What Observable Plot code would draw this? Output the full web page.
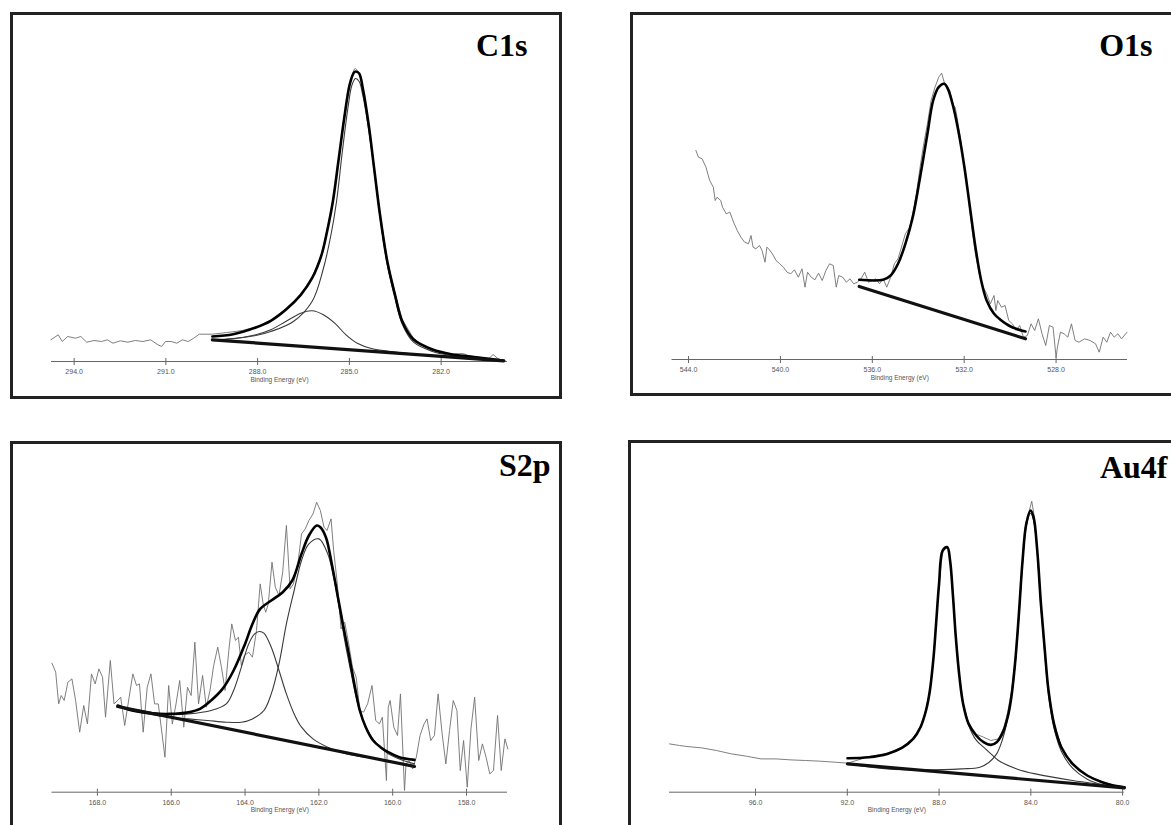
<!DOCTYPE html>
<html><head><meta charset="utf-8">
<script src="https://cdn.jsdelivr.net/npm/d3@7"></script>
<script src="https://cdn.jsdelivr.net/npm/@observablehq/plot@0.6"></script>
<style>
html,body{margin:0;padding:0;background:#fff;}
#page{position:relative;width:1171px;height:825px;overflow:hidden;background:#fff;}
.panel{position:absolute;}
.panel svg{position:absolute;left:0;top:0;}
.frame{position:absolute;left:0;top:0;right:0;bottom:0;border:3px solid #222;box-sizing:border-box;pointer-events:none;}
</style></head><body><div id="page"></div>
<script>
// ---------- C1s ----------
const c1sTicks = [294, 291, 288, 285, 282];
const c1sRaw = [[294.76,21.7],[294.52,26.7],[294.39,20],[294.21,25],[293.96,23.3],[293.78,25],[293.59,19.3],[293.35,21],[293.10,20],[292.92,21.7],[292.73,18.3],[292.49,20.7],[292.24,19.3],[292.00,21],[291.75,20],[291.50,21.7],[291.26,16.7],[291.14,15],[291.01,20],[290.83,20],[290.64,18.3],[290.46,21.7],[290.27,20],[290.09,23.3],[289.91,27.3],[289.48,27.3],[289.0,29],[288.5,31],[288.06,34.5],[287.57,41.5],[287.08,52.5],[286.59,67],[286.22,84],[285.91,107],[285.73,131],[285.54,161],[285.36,201],[285.17,245],[284.99,278],[284.85,292],[284.80,293],[284.68,289],[284.56,274],[284.37,237],[284.19,194],[284.00,148],[283.76,101],[283.51,68],[283.27,42],[282.90,23],[282.6,16],[282.28,12.5],[282.0,9],[281.67,7.5],[281.3,8],[281.05,5.5],[280.7,4],[280.44,3],[280.3,7],[280.15,3],[279.95,1]];
const c1sEnvelope = [[289.48,25],[288.80,27.3],[288.06,34],[287.57,40.7],[287.08,51.7],[286.59,66.7],[286.22,83.3],[285.91,106.7],[285.73,130],[285.54,160],[285.36,200],[285.17,243],[284.99,277],[284.85,289],[284.80,290],[284.68,288],[284.56,273],[284.37,237],[284.19,193],[284.00,147],[283.76,100],[283.51,67],[283.27,40],[282.90,22],[282.28,12],[281.67,7.3],[281.05,5],[280.44,2.7],[279.95,0.7]];
const c1sMain = [[289.48,21.7],[288.80,23],[288.06,26],[287.57,30],[286.83,40],[286.22,60],[285.85,93],[285.60,127],[285.42,160],[285.23,210],[285.05,253],[284.92,276],[284.80,283],[284.68,280],[284.56,266],[284.37,232],[284.19,191.7],[284.00,145],[283.76,96.7],[283.51,63.3],[283.27,37.3],[282.90,19.3],[282.28,10],[281.67,6],[281.05,4],[280.44,2.3],[279.95,0.7]];
const c1sMinor = [[289.48,21.7],[288.80,22.7],[288.06,26.7],[287.57,31.7],[287.08,40],[286.59,48.3],[286.22,50.7],[285.85,46.7],[285.48,38.3],[285.11,26.7],[284.74,18.3],[284.25,12.7],[283.63,10],[282.90,7.3]];
const c1sBackground = [[289.48,21.7],[279.95,0.7]];

// ---------- O1s ----------
const o1sTicks = [544, 540, 536, 532, 528];
const o1sRaw = [[543.68,209],[543.57,202.3],[543.41,200.7],[543.24,192.3],[543.08,179],[542.92,172.3],[542.84,159],[542.76,162.3],[542.60,159],[542.52,152.3],[542.36,145.7],[542.20,147.3],[542.04,137.3],[541.88,129],[541.72,122.3],[541.56,117.3],[541.39,115.7],[541.28,124],[541.19,112.3],[541.07,110.7],[540.91,114],[540.80,109],[540.67,97.3],[540.59,112.3],[540.51,110.7],[540.35,105.7],[540.19,99],[540.03,95.7],[539.87,92.3],[539.71,87.3],[539.55,85.7],[539.39,89.7],[539.22,82.3],[539.06,90.7],[538.93,72.3],[538.82,87.3],[538.66,82.3],[538.50,79.7],[538.34,86.3],[538.18,79],[538.02,89],[537.86,95.7],[537.70,94],[537.57,72.3],[537.46,84],[537.29,82.3],[537.13,77.3],[536.97,80.7],[536.81,75.7],[536.65,77.3],[536.49,80.7],[536.33,87.3],[536.17,77.3],[536.01,79],[535.85,80.7],[535.69,75.7],[535.53,80.7],[535.37,72.3],[535.20,82.3],[535.04,95.7],[534.88,100.7],[534.56,125.7],[534.37,132.3],[534.24,145.7],[534.08,165.7],[533.92,192.3],[533.76,215.7],[533.60,235.7],[533.44,259],[533.27,272.3],[533.11,282.3],[532.98,286.3],[532.87,277.3],[532.76,274],[532.63,269],[532.47,254],[532.39,252.3],[532.31,242.3],[532.15,219],[531.99,192.3],[531.83,165.7],[531.67,132.3],[531.51,105.7],[531.34,85.7],[531.18,72.3],[531.02,65.7],[530.86,55.7],[530.70,64],[530.62,49],[530.54,59],[530.38,52.3],[530.22,54],[530.06,39],[529.90,35.7],[529.74,29],[529.58,34],[529.42,22.3],[529.25,24],[529.09,35.7],[528.93,29],[528.77,40.7],[528.61,25.7],[528.45,14],[528.29,34],[528.13,32.3],[528.00,2.3],[527.94,12.3],[527.81,27.3],[527.65,25.7],[527.49,22.3],[527.33,35.7],[527.17,19],[527.00,17.3],[526.76,20.7],[526.52,19],[526.28,15.7],[526.12,7.3],[525.95,22.3],[525.79,17.3],[525.63,27.3],[525.47,22.3],[525.31,25.7],[525.15,20.7],[524.91,27.3]];
const o1sEnvelope = [[536.57,79.7],[535.53,79.7],[535.20,84],[534.88,95.7],[534.56,115.7],[534.24,142.3],[533.92,182.3],[533.60,225.7],[533.35,259],[533.11,272.3],[532.87,275.7],[532.71,270.7],[532.47,252.3],[532.23,225.7],[531.99,192.3],[531.75,152.3],[531.51,112.3],[531.26,79],[531.02,59],[530.70,45.7],[530.38,39],[530.06,34],[529.74,30.7],[529.33,28]];
const o1sBackground = [[536.57,73],[529.33,20.7]];

// ---------- S2p ----------
const s2pTicks = [168, 166, 164, 162, 160, 158];
const s2pRaw = [[169.23,129],[169.13,120],[169.05,88.3],[168.98,96.7],[168.90,91.7],[168.80,110],[168.69,113.3],[168.59,91.7],[168.48,60],[168.37,86.7],[168.27,68.3],[168.16,118.3],[168.06,108.3],[167.96,123.3],[167.86,115],[167.78,75],[167.65,131.7],[167.55,88.3],[167.45,91.7],[167.37,95],[167.26,66.7],[167.14,95],[167.04,118.3],[166.94,106.7],[166.86,108.3],[166.76,60],[166.65,105],[166.55,118.3],[166.45,88.3],[166.35,88.3],[166.17,35],[166.07,106.7],[165.97,68.3],[165.87,88.3],[165.77,111.7],[165.66,65],[165.56,105],[165.46,96.7],[165.36,150],[165.26,88.3],[165.15,116.7],[165.05,85],[164.95,101.7],[164.85,126.7],[164.74,145],[164.64,125],[164.54,101.7],[164.44,141.7],[164.36,168.3],[164.26,151.7],[164.18,155],[164.10,126.7],[164.02,136.7],[163.90,140],[163.80,135],[163.69,161.7],[163.59,208.3],[163.51,188.3],[163.44,180],[163.37,188.3],[163.27,230],[163.18,205],[163.08,196.7],[162.98,220],[162.88,266.7],[162.78,203.3],[162.69,208.3],[162.57,228.3],[162.47,258.3],[162.37,263.3],[162.27,271.7],[162.16,278.3],[162.06,290],[161.96,281.7],[161.86,265],[161.78,261.7],[161.67,273.3],[161.60,241.7],[161.50,208.3],[161.40,163.3],[161.30,170],[161.19,148.3],[161.09,125],[160.99,115],[160.89,81.7],[160.79,80],[160.68,88.3],[160.56,106.7],[160.46,71.7],[160.36,68.3],[160.28,75],[160.17,11.7],[160.12,85],[160.07,91.7],[159.97,65],[159.87,56.7],[159.79,98.3],[159.68,1.7],[159.64,28.3],[159.56,31.7],[159.46,23.3],[159.36,35],[159.26,56.7],[159.15,68.3],[159.07,73.3],[158.97,51.7],[158.87,56.7],[158.77,98.3],[158.66,58.3],[158.56,28.3],[158.46,61.7],[158.36,91.7],[158.26,81.7],[158.17,21.7],[158.08,51.7],[157.98,5],[157.88,63.3],[157.78,95],[157.67,31.7],[157.57,48.3],[157.47,35],[157.37,18.3],[157.27,21.7],[157.16,76.7],[157.06,21.7],[156.96,53.3],[156.88,43.3]];
const s2pEnvelope = [[167.45,86.7],[167.06,81.7],[166.55,79],[166.04,78.3],[165.53,80],[165.22,83.3],[164.92,91.7],[164.61,103.3],[164.31,121.7],[164.00,148.3],[163.80,168.3],[163.59,183.3],[163.29,191.7],[162.98,200],[162.72,211.7],[162.47,238.3],[162.27,256.7],[162.06,266.7],[161.96,265],[161.81,255],[161.65,228.3],[161.50,198.3],[161.35,168.3],[161.19,138.3],[161.04,108.3],[160.89,81.7],[160.73,65],[160.53,51.7],[160.33,45],[160.12,40],[159.82,35],[159.41,32.3]];
const s2pMain = [[167.45,85],[166.55,77.7],[166.04,75],[165.53,73.3],[165.02,71.7],[164.51,70],[164.10,70],[163.80,73.3],[163.49,81.7],[163.29,98.3],[163.08,128.3],[162.88,168.3],[162.67,201.7],[162.47,231.7],[162.27,248.3],[162.00,253.3],[161.76,238.3],[161.60,215],[161.45,185],[161.30,151.7],[161.14,121.7],[160.99,95],[160.84,75],[160.63,58.3],[160.43,48.3],[160.12,38.3],[159.82,33.3],[159.41,28.3]];
const s2pMinor = [[167.45,85.7],[166.55,80],[166.04,77.7],[165.53,78.3],[164.92,81.7],[164.51,88.3],[164.31,101.7],[164.10,125],[163.90,148.3],[163.74,158.3],[163.61,160.7],[163.49,159],[163.29,145],[163.08,121.7],[162.88,98.3],[162.67,78.3],[162.47,65],[162.16,53.3],[161.76,45],[161.24,38.3],[160.43,33.3],[159.41,26.7]];
const s2pBackground = [[167.45,85.7],[159.41,25.7]];

// ---------- Au4f ----------
const au4fTicks = [96, 92, 88, 84, 80];
const au4fRaw = [[99.75,48.3],[99.31,46.7],[98.99,45.7],[98.34,44.3],[97.70,41.7],[97.05,38.3],[96.40,36],[95.76,33.3],[95.11,33.3],[94.46,32.3],[93.82,31.7],[93.17,31],[92.53,30],[91.99,29],[91.07,35.5],[90.26,39],[89.62,45],[89.13,54],[88.81,66],[88.57,82],[88.40,102],[88.24,136],[88.13,169],[88.00,209],[87.84,242],[87.64,246],[87.52,232],[87.39,196],[87.27,156],[87.11,116],[86.95,89],[86.71,69],[86.38,58],[86.06,55],[85.74,51.7],[85.41,53.3],[85.17,65],[85.01,80],[84.85,100],[84.69,130],[84.53,176],[84.36,233],[84.20,270],[83.96,291],[83.88,280],[83.72,243],[83.56,189],[83.39,142],[83.23,102],[82.99,69],[82.67,45.5],[82.18,28.5],[81.54,17],[80.89,10.5],[80.40,7],[79.92,5.5]];
const au4fEnvelope = [[91.99,34],[91.07,35],[90.26,38.3],[89.62,44.3],[89.13,53.3],[88.81,65],[88.57,81.7],[88.40,101.7],[88.24,135],[88.13,168.3],[88.00,208.3],[87.84,241.7],[87.64,245],[87.52,231.7],[87.39,195],[87.27,155],[87.11,115],[86.95,88.3],[86.71,68.3],[86.38,56.7],[86.06,50],[85.74,47.3],[85.49,50],[85.25,58.3],[85.01,75],[84.85,95],[84.69,128.3],[84.53,175],[84.36,231.7],[84.20,268.3],[84.01,281.7],[83.88,275],[83.72,241.7],[83.56,188.3],[83.39,141.7],[83.23,101.7],[82.99,68.3],[82.67,45],[82.18,28.3],[81.54,16.7],[80.89,10],[80.40,6.7],[79.92,5]];
const au4fPeak52 = [[91.99,34],[91.07,35],[90.26,38.3],[89.62,44.3],[89.13,53.3],[88.81,65],[88.57,81.7],[88.40,101.7],[88.24,135],[88.13,168.3],[88.00,208.3],[87.84,241.7],[87.64,245],[87.52,231.7],[87.39,195],[87.27,155],[87.11,115],[86.95,88],[86.71,67],[86.38,52],[86.06,45],[85.74,38.3],[85.41,31.7],[84.61,23.3],[83.80,18.3],[82.18,11.7],[79.92,5]];
const au4fPeak72 = [[91.99,28.3],[90.26,23.3],[88.65,22.3],[87.03,23.3],[86.22,25],[85.82,30],[85.49,38.3],[85.25,51.7],[85.09,65],[84.93,85],[84.85,95],[84.69,126],[84.53,172],[84.36,229],[84.20,266],[84.01,279],[83.88,272],[83.72,239],[83.56,185],[83.39,138],[83.23,98],[82.99,64],[82.67,41],[82.18,24],[81.54,13],[80.89,7.5],[80.40,5.5],[79.92,5]];
const au4fBackground = [[91.99,28.3],[79.92,4.3]];

const panels = [
  {title: "C1s", left: 10, top: 12, width: 552, height: 387, mL: 41, mR: 55, mB: 38,
   domain: [294.74, 279.83], ticks: c1sTicks, raw: c1sRaw, comps: [c1sMain, c1sMinor],
   env: c1sEnvelope, bg: c1sBackground, tdx: 20, tdy: -6},
  {title: "O1s", left: 630, top: 12, width: 560, height: 384, mL: 41.5, mR: 63, mB: 37,
   domain: [544.72, 524.89], ticks: o1sTicks, raw: o1sRaw, comps: [],
   env: o1sEnvelope, bg: o1sBackground, tdx: 25, tdy: -4},
  {title: "S2p", left: 10, top: 441, width: 552, height: 400, mL: 41.5, mR: 55, mB: 49.3,
   domain: [169.23, 156.89], ticks: s2pTicks, raw: s2pRaw, comps: [s2pMain, s2pMinor],
   env: s2pEnvelope, bg: s2pBackground, tdx: 43, tdy: -16.7},
  {title: "Au4f", left: 628, top: 440, width: 560, height: 400, mL: 41, mR: 64.3, mB: 48.3,
   domain: [99.75, 79.93], ticks: au4fTicks, raw: au4fRaw, comps: [au4fPeak52, au4fPeak72],
   env: au4fEnvelope, bg: au4fBackground, tdx: 43.3, tdy: -14.7}
];

const page = document.getElementById("page");
const X = d => d[0], Y = d => d[1];
for (const p of panels) {
  const div = document.createElement("div");
  div.className = "panel";
  Object.assign(div.style, {left: p.left + "px", top: p.top + "px", width: p.width + "px", height: p.height + "px"});
  const yTop = 300;
  const mT = (p.height - p.mB) - yTop;
  const chart = Plot.plot({
    width: p.width, height: p.height,
    marginLeft: p.mL, marginRight: p.mR, marginBottom: p.mB, marginTop: mT,
    x: {domain: p.domain, axis: null},
    y: {domain: [0, yTop], axis: null},
    style: {fontFamily: "'Liberation Sans', Arial, sans-serif", fontSize: "7px", color: "#555", background: "transparent", overflow: "visible"},
    marks: [
      Plot.ruleY([0], {stroke: "#666", strokeWidth: 1}),
      Plot.axisX({ticks: p.ticks, tickFormat: d3.format(".1f"), tickSize: 4, tickPadding: 4, label: null, stroke: "#666", fill: "#555", fontSize: 7}),
      Plot.ruleX(p.ticks, {x: d => d, y1: 0, y2: 3, stroke: "#666"}),
      Plot.text(["Binding Energy (eV)"], {text: d => d, frameAnchor: "bottom", dy: 20, fontSize: 6.5, fill: "#555"}),
      Plot.line(p.raw, {x: X, y: Y, stroke: "#707070", strokeWidth: 0.9}),
      ...p.comps.map(c => Plot.line(c, {x: X, y: Y, stroke: "#3a3a3a", strokeWidth: 1.1, curve: "catmull-rom"})),
      Plot.line(p.env, {x: X, y: Y, stroke: "#000", strokeWidth: 2.6, curve: "catmull-rom"}),
      Plot.line(p.bg, {x: X, y: Y, stroke: "#111", strokeWidth: 3.2}),
      Plot.text([p.title], {text: d => d, frameAnchor: "top-right", dx: p.tdx, dy: p.tdy, lineAnchor: "bottom", textAnchor: "end",
        fontFamily: "'Liberation Serif', 'Times New Roman', serif", fontWeight: "bold", fontSize: 32, fill: "#000"})
    ]
  });
  div.appendChild(chart);
  const frame = document.createElement("div");
  frame.className = "frame";
  div.appendChild(frame);
  page.appendChild(div);
}
</script></body></html>
